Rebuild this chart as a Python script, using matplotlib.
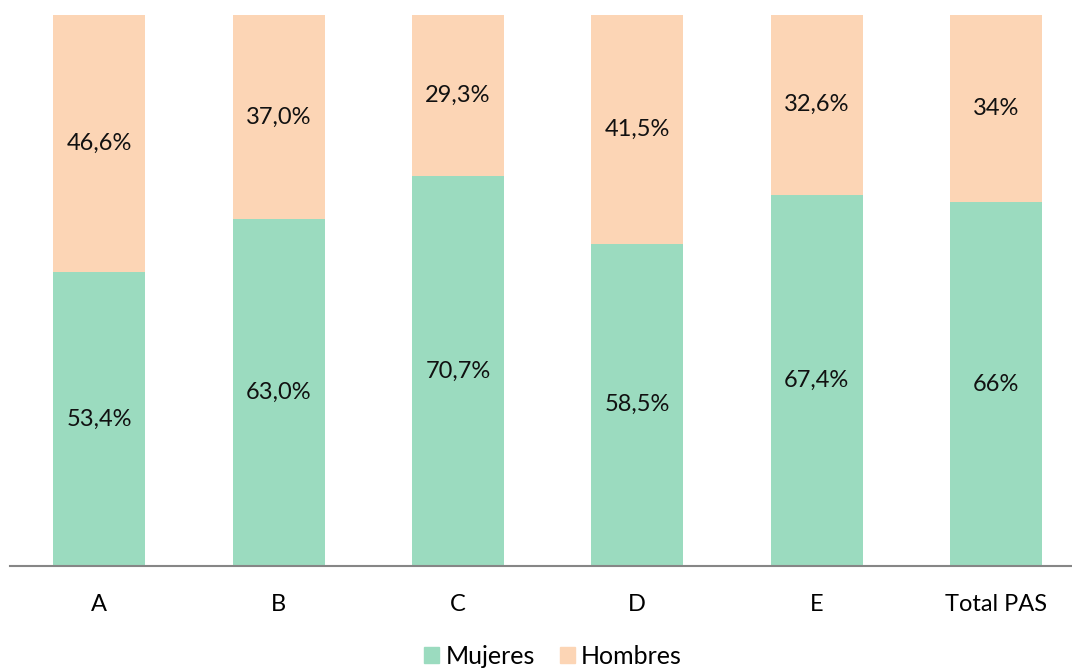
import matplotlib
matplotlib.use("Agg")
import matplotlib.pyplot as plt
from matplotlib.patches import Patch

categories = ["A", "B", "C", "D", "E", "Total PAS"]
mujeres = [53.4, 63.0, 70.7, 58.5, 67.4, 66.0]
hombres = [46.6, 37.0, 29.3, 41.5, 32.6, 34.0]
mujeres_labels = ["53,4%", "63,0%", "70,7%", "58,5%", "67,4%", "66%"]
hombres_labels = ["46,6%", "37,0%", "29,3%", "41,5%", "32,6%", "34%"]

plt.rcParams['font.family'] = ['Lato', 'DejaVu Sans']
c_m = "#9BDBBF"
c_h = "#FCD5B5"

fig = plt.figure(figsize=(10.72, 6.68), dpi=100)
W, H = 1072, 668
ax = fig.add_axes([10 / W, (H - 566) / H, (W - 10) / W, (566 - 15) / H])
x = list(range(len(categories)))
bw = 0.513
ax.bar(x, mujeres, bw, color=c_m, label="Mujeres")
ax.bar(x, hombres, bw, bottom=mujeres, color=c_h, label="Hombres")
fs = 17
for i in x:
    ax.text(i, mujeres[i] / 2, mujeres_labels[i], ha="center", va="center", fontsize=fs, color="#111111")
    ax.text(i, mujeres[i] + hombres[i] / 2, hombres_labels[i], ha="center", va="center", fontsize=fs, color="#111111")

step = 179.2
ax.set_xlim(-0.5 + (10.4 - 10) / step, -0.5 + (1072 - 10.4) / step)
ax.set_ylim(0, 100)
ax.set_xticks(x)
ax.set_xticklabels(categories, fontsize=fs)
ax.tick_params(axis="x", length=0, pad=20)
ax.set_yticks([])
for s in ["top", "right", "left"]:
    ax.spines[s].set_visible(False)
ax.spines["bottom"].set_color("#868686")
ax.spines["bottom"].set_linewidth(1.5)

handles = [Patch(color=c_m, label="Mujeres"), Patch(color=c_h, label="Hombres")]
fig.legend(handles=handles, loc="center", bbox_to_anchor=(553 / W, 1 - 656 / H), ncol=2, frameon=False,
           fontsize=18, handlelength=0.6, handleheight=0.6, handletextpad=0.25, columnspacing=1.0)

fig.savefig("out.png", dpi=100)
